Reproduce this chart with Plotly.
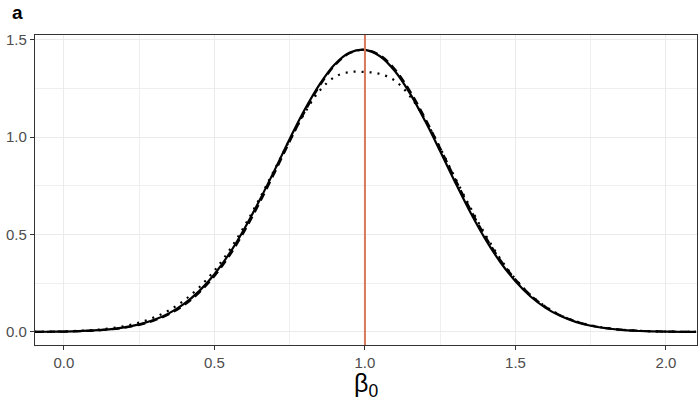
import plotly.graph_objects as go

x_vals = [-0.1, -0.05, 0.0, 0.05, 0.1, 0.15, 0.2, 0.25, 0.3, 0.35, 0.4, 0.45, 0.5, 0.55, 0.6, 0.65,
          0.7, 0.75, 0.8, 0.85, 0.9, 0.95, 1.0, 1.05, 1.1, 1.15, 1.2, 1.25, 1.3, 1.35, 1.4, 1.45,
          1.5, 1.55, 1.6, 1.65, 1.7, 1.75, 1.8, 1.85, 1.9, 1.95, 2.0, 2.05, 2.1]

solid_y = [0.0006, 0.0011, 0.0022, 0.0042, 0.0077, 0.0137, 0.0234, 0.0388, 0.0622, 0.0967, 0.1453,
           0.2109, 0.2966, 0.403, 0.531, 0.676, 0.831, 0.991, 1.142, 1.273, 1.375, 1.435, 1.449,
           1.416, 1.339, 1.224, 1.083, 0.928, 0.768, 0.615, 0.477, 0.358, 0.260, 0.182, 0.124,
           0.0814, 0.0518, 0.0318, 0.0190, 0.0109, 0.0061, 0.0033, 0.0017, 0.0008, 0.0004]

dashed_y = [0.0005, 0.001, 0.002, 0.0038, 0.007, 0.0127, 0.0218, 0.0364, 0.0587, 0.0918, 0.139,
            0.203, 0.287, 0.392, 0.519, 0.663, 0.818, 0.978, 1.131, 1.265, 1.369, 1.432, 1.449,
            1.421, 1.348, 1.236, 1.097, 0.943, 0.784, 0.630, 0.490, 0.369, 0.269, 0.189, 0.129,
            0.085, 0.054, 0.033, 0.020, 0.0115, 0.0064, 0.0035, 0.0018, 0.0009, 0.0004]

dotted_y = [0.001, 0.0015, 0.003, 0.006, 0.010, 0.018, 0.030, 0.048, 0.075, 0.112, 0.163, 0.230,
            0.315, 0.420, 0.545, 0.685, 0.835, 0.985, 1.125, 1.240, 1.310, 1.335, 1.335, 1.325,
            1.290, 1.210, 1.090, 0.945, 0.790, 0.640, 0.500, 0.375, 0.272, 0.190, 0.130, 0.086,
            0.055, 0.034, 0.021, 0.012, 0.007, 0.004, 0.002, 0.001, 0.0005]

true_value = 1.0
x_ticks = [0.0, 0.5, 1.0, 1.5, 2.0]
x_tick_labels = ["0.0", "0.5", "1.0", "1.5", "2.0"]
x_minor = [0.25, 0.75, 1.25, 1.75]
y_ticks = [0.0, 0.5, 1.0, 1.5]
y_tick_labels = ["0.0", "0.5", "1.0", "1.5"]
y_minor = [0.25, 0.75, 1.25]

FONT = "Liberation Sans, Arial, sans-serif"

fig = go.Figure()
fig.add_trace(go.Scatter(x=x_vals, y=dotted_y, mode="lines",
                         line=dict(color="black", width=2.2, dash="2px,6px", shape="spline"), showlegend=False))
fig.add_trace(go.Scatter(x=x_vals, y=dashed_y, mode="lines",
                         line=dict(color="black", width=2.2, dash="8px,5px", shape="spline"), showlegend=False))
fig.add_trace(go.Scatter(x=x_vals, y=solid_y, mode="lines",
                         line=dict(color="black", width=2.2, shape="spline"), showlegend=False))

fig.add_vline(x=true_value, line=dict(color="#D9785A", width=2))


def axis(ticks, labels, minor_vals, rng):
    return dict(
        range=rng, tickvals=ticks, ticktext=labels, automargin=False,
        showgrid=True, gridcolor="#EBEBEB", gridwidth=1.4,
        zeroline=False, showline=True, linecolor="#333333", linewidth=1.3, mirror=True,
        ticks="outside", ticklen=4, tickcolor="#333333", tickwidth=1.3,
        tickfont=dict(family=FONT, size=15, color="#4D4D4D"),
        minor=dict(showgrid=True, gridcolor="#EFEFEF", gridwidth=0.8, tickvals=minor_vals, ticks=""),
    )


fig.update_layout(
    width=698, height=405,
    margin=dict(l=35, r=1, t=35, b=60),
    plot_bgcolor="white", paper_bgcolor="white",
    xaxis=axis(x_ticks, x_tick_labels, x_minor, [-0.096, 2.103]),
    yaxis=axis(y_ticks, y_tick_labels, y_minor, [-0.067, 1.525]),
)
fig.add_annotation(text="β<sub>0</sub>", xref="paper", yref="paper", x=0.5, y=-0.13,
                   xanchor="center", yanchor="middle", showarrow=False,
                   font=dict(family=FONT, size=25, color="black"))
fig.add_annotation(text="<b>a</b>", xref="paper", yref="paper", x=-0.026, y=1.072,
                   xanchor="center", yanchor="middle", showarrow=False,
                   font=dict(family=FONT, size=19, color="black"))

# remove the browser's default 8px body margin so the figure sits at the window origin
fig.write_html("out.html", config={"displayModeBar": False},
               post_script="document.body.style.margin='0';")
